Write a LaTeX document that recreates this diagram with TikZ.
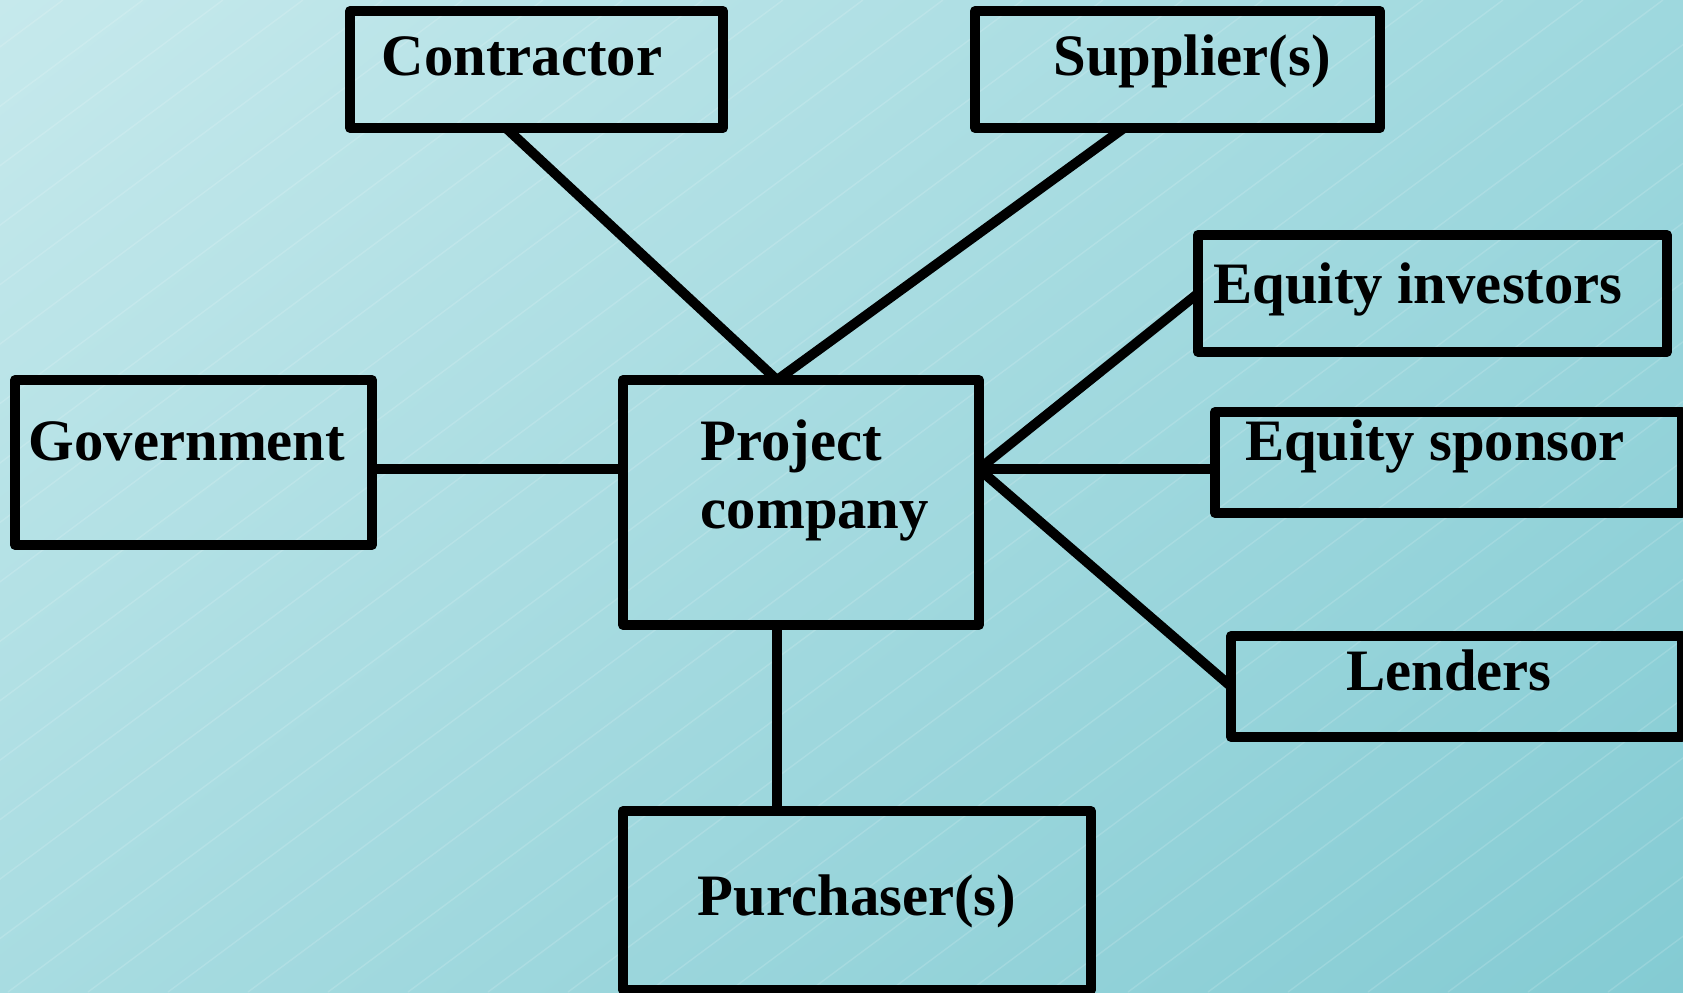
\documentclass[tikz,border=0pt]{standalone}
\usepackage{fontspec}
\setmainfont{Liberation Serif}
\usetikzlibrary{shadings}

\definecolor{bgtl}{HTML}{C6E9EC}
\definecolor{bgtr}{HTML}{9ED8DE}
\definecolor{bgbl}{HTML}{A8DCE1}
\definecolor{bgbr}{HTML}{84CBD3}

\tikzset{
  box/.style={draw, line width=2.8pt, line join=round, inner sep=0pt, outer sep=0pt},
  lbl/.style={font=\bfseries\fontsize{16.7}{19.3}\selectfont, inner sep=0pt, anchor=base},
  link/.style={line width=2.8pt},
  stripe/.style={white, opacity=0.15, line width=0.4pt}
}

\begin{document}
\begin{tikzpicture}

  % --- sfondo ---
  \useasboundingbox (0,0) rectangle (16.83,9.92);
  \shade[upper left=bgtl, upper right=bgtr, lower left=bgbl, lower right=bgbr]
    (0,0) rectangle (16.83,9.92);
  \begin{scope}
    \clip (0,0) rectangle (16.83,9.92);
    \foreach \k in {-16,...,21}
      \draw[stripe] (0.08+0.8*\k, 0) -- ++(13.35, 9.92);
  \end{scope}

  % --- contractor ---
  \node[box, minimum width=3.73cm, minimum height=1.17cm] (contractor) at (5.365, 9.225) {};
  \node[lbl] (contractortxt) at (5.22, 9.17) {Contractor};

  % --- supplier(s) ---
  \node[box, minimum width=4.05cm, minimum height=1.17cm] (supplier) at (11.775, 9.225) {};
  \node[lbl] (suppliertxt) at (11.92, 9.17) {Supplier(s)};

  % --- equity investors ---
  \node[box, minimum width=4.69cm, minimum height=1.17cm] (investors) at (14.325, 6.985) {};
  \node[lbl] (investorstxt) at (14.18, 6.89) {Equity investors};

  % --- equity sponsor ---
  \node[box, minimum width=4.67cm, minimum height=1.01cm] (sponsor) at (14.485, 5.295) {};
  \node[lbl] (sponsortxt) at (14.35, 5.32) {Equity sponsor};

  % --- lenders ---
  \node[box, minimum width=4.51cm, minimum height=1.01cm] (lenders) at (14.565, 3.055) {};
  \node[lbl] (lenderstxt) at (14.49, 3.02) {Lenders};

  % --- government ---
  \node[box, minimum width=3.57cm, minimum height=1.65cm] (government) at (1.935, 5.295) {};
  \node[lbl] (governmenttxt) at (1.87, 5.32) {Government};

  % --- project company ---
  \node[box, minimum width=3.56cm, minimum height=2.45cm] (company) at (8.01, 4.895) {};
  \node[lbl, anchor=base west] (companytxt1) at (7.00, 5.32) {Project};
  \node[lbl, anchor=base west] (companytxt2) at (7.00, 4.64) {company};

  % --- purchaser(s) ---
  \node[box, minimum width=4.68cm, minimum height=1.79cm] (purchaser) at (8.57, 0.915) {};
  \node[lbl] (purchasertxt) at (8.57, 0.77) {Purchaser(s)};

  % --- collegamenti ---
  \coordinate (hubtop) at ([xshift=1.54cm]company.north west);
  \coordinate (hub) at ([yshift=3.35mm]company.east);
  \draw[link] ([xshift=1.56cm]contractor.south west) -- (hubtop);
  \draw[link] ([xshift=1.49cm]supplier.south west) -- (hubtop);
  \draw[link] (government.east |- hub) -- (company.west |- hub);
  \draw[link] (hub) -- (investors.west);
  \draw[link] (hub) -- (sponsor.west |- hub);
  \draw[link] (hub) -- (lenders.west);
  \draw[link] (company.south -| hubtop) -- (purchaser.north -| hubtop);

\end{tikzpicture}
\end{document}
